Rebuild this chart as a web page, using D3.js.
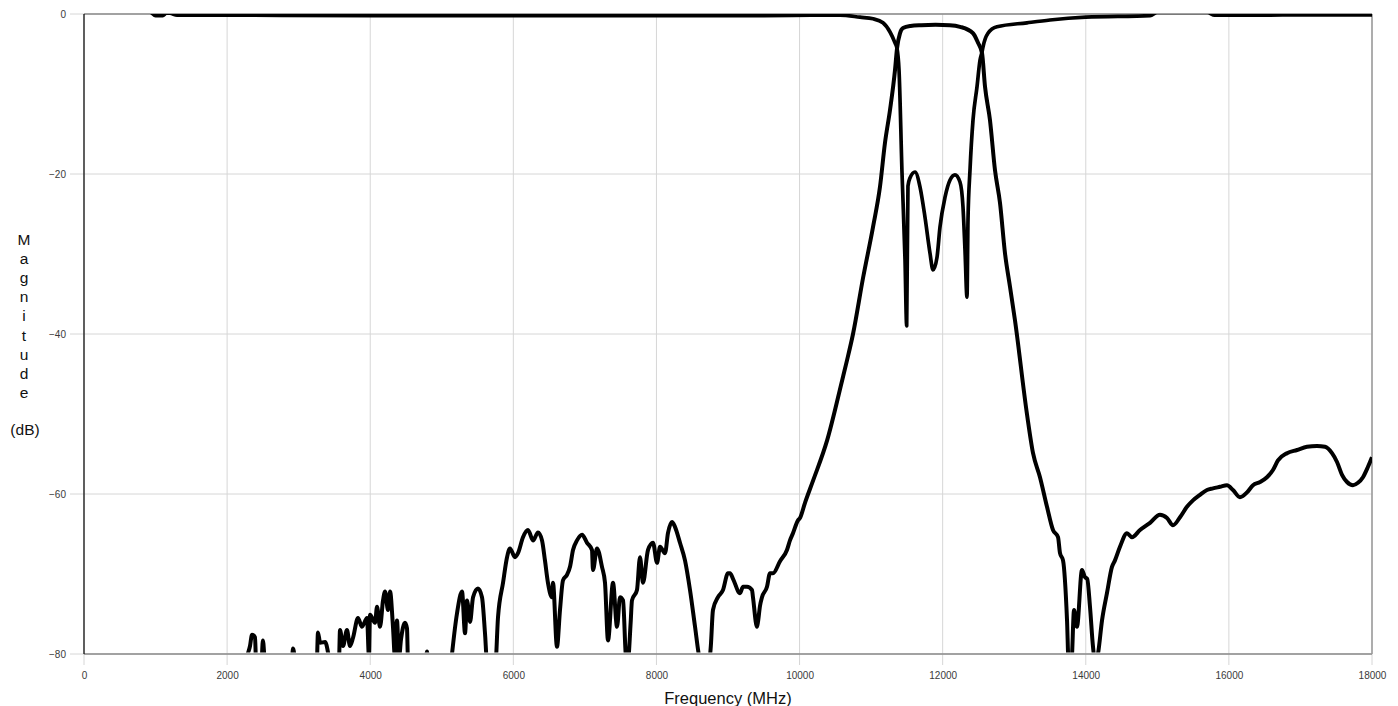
<!DOCTYPE html>
<html>
<head>
<meta charset="utf-8">
<script src="https://cdn.jsdelivr.net/npm/d3@7"></script>
<style>
  body { margin: 0; background: #fff; }
  text { font-family: Arial, "Liberation Sans", sans-serif; }
</style>
</head>
<body>
<svg width="1398" height="706"></svg>
<script>
// S21 (transmission), MHz / dB - values under -80 are clipped by the plot
const s21Freq = [0, 2200, 2277, 2320, 2348, 2390, 2405, 2480, 2500, 2530, 2900, 2920, 2960, 3250, 3270, 3300, 3370, 3410, 3430,
  3560, 3578, 3620, 3675, 3717, 3759, 3829, 3885, 3955, 3983, 3997, 4067, 4095, 4137, 4179, 4207, 4249, 4277, 4318, 4346,
  4374, 4402, 4430, 4486, 4514, 4528, 4760, 4794, 4820, 5120, 5143, 5213, 5283, 5325, 5353, 5395, 5437, 5506, 5562, 5604,
  5632, 5744, 5786, 5856, 5912, 5953, 6023, 6065, 6135, 6205, 6275, 6345, 6401, 6442, 6484, 6540, 6554, 6610, 6652, 6694,
  6750, 6792, 6834, 6890, 6960, 7030, 7099, 7113, 7169, 7239, 7281, 7323, 7393, 7449, 7491, 7533, 7575, 7600, 7640, 7658,
  7728, 7770, 7812, 7882, 7952, 8008, 8050, 8120, 8161, 8217, 8259, 8329, 8399, 8469, 8538, 8600, 8650, 8720, 8760, 8790,
  8860, 8930, 9000, 9028, 9070, 9168, 9210, 9266, 9335, 9349, 9405, 9419, 9447, 9475, 9545, 9587, 9629, 9727, 9824, 9866,
  9908, 9978, 10006, 10076, 10190, 10385, 10595, 10663, 10747, 10887, 11027, 11124, 11194, 11264, 11334, 11362, 11404,
  11446, 11550, 11700, 11900, 12100, 12242, 12424, 12494, 12550, 12592, 12661, 12731, 12801, 12871, 12941, 13010, 13178,
  13263, 13360, 13458, 13542, 13612, 13640,
  13682, 13738, 13760, 13800, 13836, 13877, 13947, 13989, 14020, 14059, 14101, 14130, 14170, 14227, 14296, 14366, 14408,
  14478, 14576, 14646, 14758, 14898, 15037, 15135, 15219, 15317, 15414, 15498, 15596, 15694, 15778, 15876, 15973, 16057,
  16155, 16253, 16337, 16435, 16532, 16616, 16686, 16812, 16952, 17091, 17231, 17343, 17441, 17511, 17581, 17651, 17734,
  17804, 17874, 17944, 18000];
const s21Db = [-90, -88, -80.5, -79, -77.6, -77.9, -81, -81, -78.3, -81, -82, -79.3, -81, -82, -77.3, -78.6, -78.5, -79.8, -81,
  -82, -77, -79, -77, -79, -78, -75.5, -76.6, -75.5, -80.5, -75.1, -76.1, -74.1, -76.6, -73.3, -72.2, -74.5, -72.2, -76.6, -80.5,
  -75.8, -80.5, -78.2, -76.1, -76.8, -81, -82, -79.7, -82, -82, -80, -74.9, -72.2, -77.4, -73.3, -76, -72.9, -71.8, -72.9, -77.4,
  -81, -82, -75.4, -71.1, -67.9, -66.8, -67.9, -67.4, -65.4, -64.5, -65.8, -64.8, -65.8, -68.3, -71.1, -72.9, -71.1, -79.1, -74.5, -70.8,
  -70.1, -69.1, -67, -65.8, -65.1, -66.1, -67, -69.5, -66.8, -69.1, -71.1, -78.3, -71.1, -76.6, -72.9, -73.3, -80.5, -81, -76, -73.3,
  -72, -67.9, -71.1, -67, -66.1, -68.6, -66.6, -67.4, -64.9, -63.5, -64.1, -66.1, -68.3, -72, -76.5, -80.5, -82, -82, -79, -74.5,
  -72.9, -72, -69.9, -69.9, -70.6, -72.4, -71.6, -71.6, -72, -72.9, -76.6, -76, -74, -72.9, -71.6, -69.9, -69.9, -68.4, -67, -65.8,
  -64.9, -63.3, -63, -61.1, -58.3, -53.3, -45.8, -43.3, -40, -33, -26.6, -21.6, -16.1, -12, -7, -4.3, -2.4,
  -1.75, -1.5, -1.4, -1.35, -1.4, -1.6, -2.4, -3.6, -4.9, -9.1, -13.25, -19.5, -23.6, -29.9, -34.1, -38.25, -50,
  -54.9, -57.9, -61.6, -64.5, -65.4, -67.4,
  -68.3, -75.8, -81, -81, -74.5, -76.6, -69.5, -70.4, -70.6, -74.1, -79.1, -81, -80, -75.8, -72.4, -69.1, -68.3,
  -66.6, -64.9, -65.4, -64.5, -63.6, -62.6, -63, -63.9, -62.9, -61.6, -60.8, -60.1, -59.5, -59.3, -59.1, -58.9, -59.5,
  -60.4, -59.8, -58.9, -58.5, -57.9, -57, -55.8, -54.9, -54.5, -54.1, -54, -54.1, -54.9, -56, -57.6, -58.5, -58.9,
  -58.6, -57.9, -56.6, -55.4];

// S11 (reflection)
const s11Freq = [0, 900, 1000, 1100, 1150, 1200, 1300, 2000, 4000, 6000, 8000, 9500, 10200, 10565, 10845, 11027, 11166, 11264,
  11334, 11362, 11390, 11432, 11474, 11497, 11515, 11543, 11613, 11683, 11753, 11823, 11865, 11921, 11963, 12033, 12103,
  12172, 12242, 12284, 12312, 12340, 12354, 12382, 12424, 12480, 12522, 12550, 12564, 12633, 12759, 13178, 13500, 14000,
  14900, 15000, 15700, 15800, 16500, 17000, 18000];
const s11Db = [0.5, 0.4, -0.2, -0.2, 0.1, 0.1, -0.15, -0.15, -0.2, -0.2, -0.2, -0.2, -0.15, -0.15, -0.4, -0.6, -1.1, -2.25,
  -3.6, -4.3, -7, -19.9, -30.75, -39, -21.5, -20.5, -19.75, -21.6, -25.4, -29.9, -32, -30.4, -26.6, -22.9, -20.75,
  -20.1, -21, -24.1, -29.5, -35.4, -25.75, -19.5, -13.25, -9.1, -5.75, -4.75, -4.1, -2.4, -1.6, -1.1, -0.75, -0.4,
  -0.2, 0.2, 0.2, -0.15, -0.15, -0.1, -0.1];

const xTicks = [0, 2000, 4000, 6000, 8000, 10000, 12000, 14000, 16000, 18000];
const yTicks = [0, -20, -40, -60, -80];

const svg = d3.select('svg');
const plotLeft = 84, plotRight = 1372, plotTop = 14, plotBottom = 654;

const x = d3.scaleLinear().domain([0, 18000]).range([plotLeft, plotRight]);
const y = d3.scaleLinear().domain([-80, 0]).range([plotBottom, plotTop]);

// grid
svg.append('g')
  .selectAll('line')
  .data(xTicks)
  .join('line')
  .attr('x1', d => x(d)).attr('x2', d => x(d))
  .attr('y1', plotTop).attr('y2', plotBottom + 11)
  .attr('stroke', '#d6d6d6').attr('stroke-width', 1);

svg.append('g')
  .selectAll('line')
  .data(yTicks)
  .join('line')
  .attr('x1', plotLeft - 14).attr('x2', plotRight)
  .attr('y1', d => y(d)).attr('y2', d => y(d))
  .attr('stroke', '#d6d6d6').attr('stroke-width', 1);

// frame
svg.append('line').attr('x1', plotLeft).attr('x2', plotRight).attr('y1', plotTop).attr('y2', plotTop)
  .attr('stroke', '#8a8a8a').attr('stroke-width', 1.5);
svg.append('line').attr('x1', plotLeft).attr('x2', plotRight).attr('y1', plotBottom).attr('y2', plotBottom)
  .attr('stroke', '#8a8a8a').attr('stroke-width', 1.5);
svg.append('line').attr('x1', plotRight).attr('x2', plotRight).attr('y1', plotTop).attr('y2', plotBottom)
  .attr('stroke', '#999').attr('stroke-width', 1.5);

// tick labels
const xAxis = svg.append('g')
  .attr('transform', `translate(0, ${plotBottom + 11})`)
  .call(d3.axisBottom(x).tickValues(xTicks).tickSize(0).tickPadding(7).tickFormat(d3.format('d')));
const yAxis = svg.append('g')
  .attr('transform', `translate(${plotLeft - 14}, 0)`)
  .call(d3.axisLeft(y).tickValues(yTicks).tickSize(0).tickPadding(4).tickFormat(d3.format('d')));
[xAxis, yAxis].forEach(a => {
  a.select('.domain').remove();
  a.selectAll('text').attr('font-size', 10).attr('fill', '#3a3a3a')
    .attr('font-family', 'Arial, "Liberation Sans", sans-serif');
});

// traces
svg.append('clipPath').attr('id', 'plot-clip')
  .append('rect').attr('x', plotLeft).attr('y', plotTop)
  .attr('width', plotRight - plotLeft).attr('height', plotBottom - plotTop - 1.5);

const line = d3.line().x(d => x(d[0])).y(d => y(d[1])).curve(d3.curveMonotoneX);
const traces = svg.append('g').attr('clip-path', 'url(#plot-clip)');

traces.append('path')
  .attr('d', line(d3.zip(s21Freq, s21Db)))
  .attr('fill', 'none').attr('stroke', '#000').attr('stroke-width', 4).attr('stroke-linejoin', 'round');

traces.append('path')
  .attr('d', line(d3.zip(s11Freq, s11Db)))
  .attr('fill', 'none').attr('stroke', '#000').attr('stroke-width', 3.7).attr('stroke-linejoin', 'round');

// left axis line
svg.append('line').attr('x1', plotLeft).attr('x2', plotLeft).attr('y1', plotTop).attr('y2', plotBottom)
  .attr('stroke', '#000').attr('stroke-width', 1.2);

// axis titles
svg.append('text')
  .attr('x', (plotLeft + plotRight) / 2).attr('y', 704)
  .attr('text-anchor', 'middle').attr('font-size', 16.5).attr('fill', '#111')
  .text('Frequency (MHz)');

const yTitle = svg.append('g').attr('font-size', 15.5).attr('fill', '#111');
'Magnitude'.split('').forEach((ch, i) => {
  yTitle.append('text').attr('x', 24).attr('y', 245 + i * 19.1)
    .attr('text-anchor', 'middle').text(ch);
});
yTitle.append('text').attr('x', 25).attr('y', 435).attr('text-anchor', 'middle').text('(dB)');
</script>
</body>
</html>
